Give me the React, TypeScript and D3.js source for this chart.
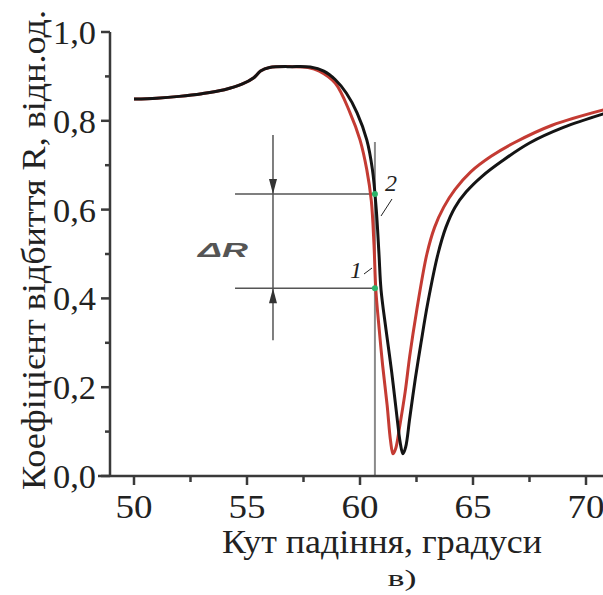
import React from 'react';
import * as d3 from 'd3';

// reflectance curves, angle (deg) vs R
const curve2: [number, number][] = [
  [50, 0.849], [51, 0.851], [52, 0.855], [53, 0.861], [54, 0.87], [54.8, 0.883],
  [55.3, 0.897], [55.6, 0.912], [56, 0.92], [57, 0.922], [57.8, 0.921], [58.4, 0.912],
  [58.9, 0.893], [59.4, 0.862], [59.87, 0.818], [60.3, 0.757], [60.55, 0.69], [60.72, 0.6],
  [60.84, 0.5], [60.93, 0.42], [61.15, 0.33], [61.4, 0.235], [61.62, 0.14], [61.78, 0.075],
  [61.9, 0.05], [62.02, 0.065], [62.2, 0.13], [62.45, 0.22], [62.7, 0.3], [63.0, 0.39],
  [63.45, 0.5], [63.8, 0.56], [64.2, 0.605], [64.7, 0.64], [65.4, 0.675], [66.3, 0.71],
  [67.5, 0.75], [69, 0.785], [70.8, 0.816],
];
const curve1: [number, number][] = [
  [50, 0.849], [51, 0.851], [52, 0.855], [53, 0.861], [54, 0.87], [54.8, 0.883],
  [55.3, 0.897], [55.6, 0.912], [56, 0.92], [57, 0.922], [57.7, 0.92], [58.2, 0.912],
  [58.9, 0.885], [59.56, 0.818], [60.0, 0.757], [60.3, 0.69], [60.5, 0.62], [60.62, 0.52],
  [60.7, 0.42], [60.85, 0.33], [61.0, 0.25], [61.2, 0.16], [61.35, 0.08], [61.46, 0.05],
  [61.58, 0.062], [61.75, 0.11], [62.0, 0.19], [62.2, 0.27], [62.5, 0.37], [62.96, 0.5],
  [63.3, 0.56], [63.7, 0.605], [64.2, 0.645], [64.9, 0.685], [65.8, 0.72], [66.8, 0.75],
  [68.5, 0.79], [70.8, 0.825],
];

const xTicks = [50, 55, 60, 65, 70];
const xMinor = [52.5, 57.5, 62.5, 67.5];
const yTicks = [0, 0.2, 0.4, 0.6, 0.8, 1.0];
const yMinor = [0.1, 0.3, 0.5, 0.7, 0.9];

// annotation values
const markAngle = 60.66;
const markTop = 0.752;
const levelHigh = 0.635;
const levelLow = 0.423;
const levelLeft = 54.47;
const arrowAngle = 56.15;
const arrowTop = 0.768;
const arrowBottom = 0.306;

const serif = '"Liberation Serif", "Times New Roman", serif';

export default function App() {
  const width = 603;
  const height = 595;

  const x = d3.scaleLinear().domain([50, 70]).range([134, 586]);
  const y = d3.scaleLinear().domain([0, 1]).range([476, 32]);

  const line = d3.line<[number, number]>()
    .x((d) => x(d[0]))
    .y((d) => y(d[1]))
    .curve(d3.curveCatmullRom.alpha(0.5));

  const fmt = (v: number) => v.toFixed(1).replace('.', ',');
  const axisColor = '#3a3a3a';
  const ax = x(arrowAngle);

  return (
    <svg width={width} height={height} style={{ position: 'absolute', left: 0, top: 0, background: '#fff' }}>
      {/* annotation lines */}
      <line x1={x(markAngle)} x2={x(markAngle)} y1={y(0)} y2={y(markTop)} stroke="#8a8a8a" strokeWidth={2} />
      <line x1={x(levelLeft)} x2={x(markAngle)} y1={y(levelHigh)} y2={y(levelHigh)} stroke="#555" strokeWidth={1.5} />
      <line x1={x(levelLeft)} x2={x(markAngle)} y1={y(levelLow)} y2={y(levelLow)} stroke="#555" strokeWidth={1.5} />
      <line x1={ax} x2={ax} y1={y(arrowTop)} y2={y(arrowBottom)} stroke="#555" strokeWidth={1.5} />
      <path d={`M${ax},${y(levelHigh)} L${ax - 4},${y(levelHigh) - 15} L${ax + 4},${y(levelHigh) - 15} Z`} fill="#333" />
      <path d={`M${ax},${y(levelLow)} L${ax - 4},${y(levelLow) + 15} L${ax + 4},${y(levelLow) + 15} Z`} fill="#333" />
      <text x={198} y={257} textLength={50} lengthAdjust="spacingAndGlyphs" fontFamily='"Liberation Sans", Arial, sans-serif' fontWeight="bold" fontStyle="italic" fontSize={20} fill="#555">ΔR</text>

      {/* curves */}
      <path d={line(curve1) || ''} fill="none" stroke="#c43b33" strokeWidth={3} />
      <path d={line(curve2) || ''} fill="none" stroke="#141414" strokeWidth={3} />

      {/* markers */}
      <circle cx={x(markAngle)} cy={y(levelHigh)} r={3} fill="#2db36a" />
      <circle cx={x(markAngle)} cy={y(levelLow)} r={3} fill="#2db36a" />

      {/* curve labels */}
      <text x={385} y={191} fontFamily={serif} fontStyle="italic" fontSize={24} fill="#222">2</text>
      <line x1={392} y1={199} x2={381} y2={216} stroke="#222" strokeWidth={1} />
      <text x={350} y={278} fontFamily={serif} fontStyle="italic" fontSize={24} fill="#222">1</text>
      <line x1={364} y1={274} x2={372} y2={268} stroke="#222" strokeWidth={1} />

      {/* axes */}
      <line x1={110} x2={110} y1={y(1)} y2={y(0)} stroke={axisColor} strokeWidth={2.5} />
      <line x1={98} x2={603} y1={y(0)} y2={y(0)} stroke={axisColor} strokeWidth={2.5} />
      {yTicks.map((t) => (
        <g key={'y' + t}>
          <line x1={101} x2={110} y1={y(t)} y2={y(t)} stroke={axisColor} strokeWidth={2.5} />
          <text x={96} y={y(t)} dy="0.35em" textAnchor="end" textLength={43} lengthAdjust="spacingAndGlyphs" fontFamily={serif} fontSize={34} fill="#222">{fmt(t)}</text>
        </g>
      ))}
      {yMinor.map((t) => (
        <line key={'ym' + t} x1={105} x2={110} y1={y(t)} y2={y(t)} stroke={axisColor} strokeWidth={2.5} />
      ))}
      {xTicks.map((t) => (
        <g key={'x' + t}>
          <line x1={x(t)} x2={x(t)} y1={y(0)} y2={y(0) + 9} stroke={axisColor} strokeWidth={2.5} />
          <text x={x(t)} y={518} textAnchor="middle" textLength={37} lengthAdjust="spacingAndGlyphs" fontFamily={serif} fontSize={34} fill="#222">{t}</text>
        </g>
      ))}
      {xMinor.map((t) => (
        <line key={'xm' + t} x1={x(t)} x2={x(t)} y1={y(0)} y2={y(0) + 6} stroke={axisColor} strokeWidth={2.5} />
      ))}

      {/* axis titles */}
      <text x={382} y={553} textAnchor="middle" textLength={320} lengthAdjust="spacingAndGlyphs" fontFamily={serif} fontSize={34} fill="#222">Кут падіння, градуси</text>
      <text transform="translate(45,250) rotate(-90)" textAnchor="middle" textLength={480} lengthAdjust="spacingAndGlyphs" fontFamily={serif} fontSize={34} fill="#222">
        Коефіцієнт відбиття R, відн.од.
      </text>
      <text x={402} y={586} textAnchor="middle" textLength={29} lengthAdjust="spacingAndGlyphs" fontFamily={serif} fontSize={23} fill="#222">в)</text>
    </svg>
  );
}
